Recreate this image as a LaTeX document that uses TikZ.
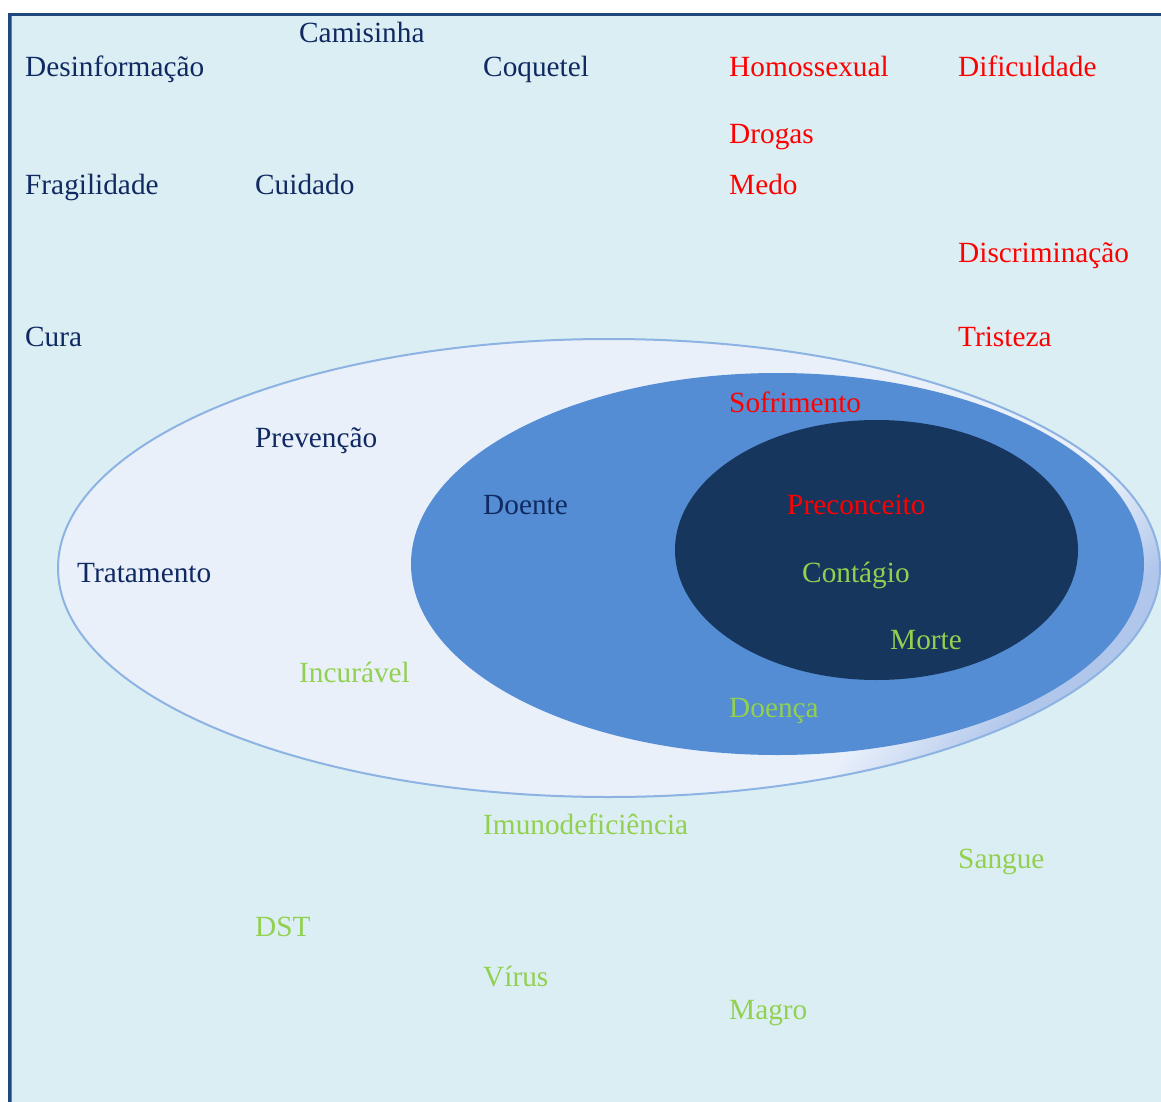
\documentclass[tikz,border=0pt]{standalone}
\usepackage{fontspec}
\setmainfont{Liberation Serif}

\definecolor{pagebg}{RGB}{219,238,244}
\definecolor{framecol}{RGB}{31,73,125}
\definecolor{framelight}{RGB}{79,129,189}
\definecolor{outerfill}{RGB}{233,240,250}
\definecolor{outershade}{RGB}{176,198,235}
\colorlet{outermid}{outershade!50!outerfill}
\definecolor{outerline}{RGB}{141,179,226}
\definecolor{midfill}{RGB}{84,141,212}
\definecolor{innerfill}{RGB}{23,54,93}
\definecolor{navytext}{RGB}{15,41,97}
\definecolor{redtext}{RGB}{255,0,0}
\definecolor{greentext}{RGB}{146,208,80}

\pgfdeclarehorizontalshading{outerglow}{100bp}{color(0bp)=(outerfill); color(69bp)=(outerfill); color(72.5bp)=(outermid); color(75.5bp)=(outershade); color(100bp)=(outershade)}

\begin{document}
\begin{tikzpicture}[x=1pt,y=-1pt,
    word/.style={anchor=base west,inner sep=0pt,font=\fontsize{29.3}{35}\selectfont},
    calm/.style={word,text=navytext},
    fear/.style={word,text=redtext},
    sick/.style={word,text=greentext}]
        % Page
        \useasboundingbox (0,0) rectangle (1161,1102);
        \fill[white] (0,0) rectangle (1161,1102);
        \fill[pagebg] (8,13) rectangle (1161,1102);
        \draw[framecol,line width=3pt] (9.5,1102) -- (9.5,14.5) -- (1161,14.5);
        \draw[framelight,line width=1pt] (11.5,1102) -- (11.5,16);
        % Ellipses
        \shadedraw[shading=outerglow,shading angle=-43,draw=outerline,line width=2pt]
          (609,568) ellipse [x radius=551,y radius=229];
        \fill[midfill] (777.5,564) ellipse [x radius=366.5,y radius=191];
        \fill[innerfill] (876.5,550) ellipse [x radius=201.5,y radius=130];
        % Words
        \foreach \name/\px/\py/\word in {camisinha/299/43/Camisinha, desinformacao/25/77/Desinformação,
            coquetel/483/77/Coquetel, fragilidade/25/194/Fragilidade, cuidado/255/194/Cuidado,
            cura/25/346/Cura, prevencao/255/447/Prevenção, doente/483/514/Doente, tratamento/77/582/Tratamento} {
          \node[calm] (\name) at (\px,\py) {\word};
        }
        \foreach \name/\px/\py/\word in {homossexual/729/77/Homossexual, dificuldade/958/77/Dificuldade,
            drogas/729/144/Drogas, medo/729/194/Medo, discriminacao/958/262/Discriminação,
            tristeza/958/346/Tristeza, sofrimento/729/412/Sofrimento, preconceito/787/514/Preconceito} {
          \node[fear] (\name) at (\px,\py) {\word};
        }
        \foreach \name/\px/\py/\word in {contagio/802/582/Contágio, morte/890/649/Morte, incuravel/299/682/Incurável,
            doenca/729/717/Doença, imuno/483/834/Imunodeficiência, sangue/958/868/Sangue,
            dst/255/936/DST, virus/483/986/Vírus, magro/729/1019/Magro} {
          \node[sick] (\name) at (\px,\py) {\word};
        }
\end{tikzpicture}
\end{document}
